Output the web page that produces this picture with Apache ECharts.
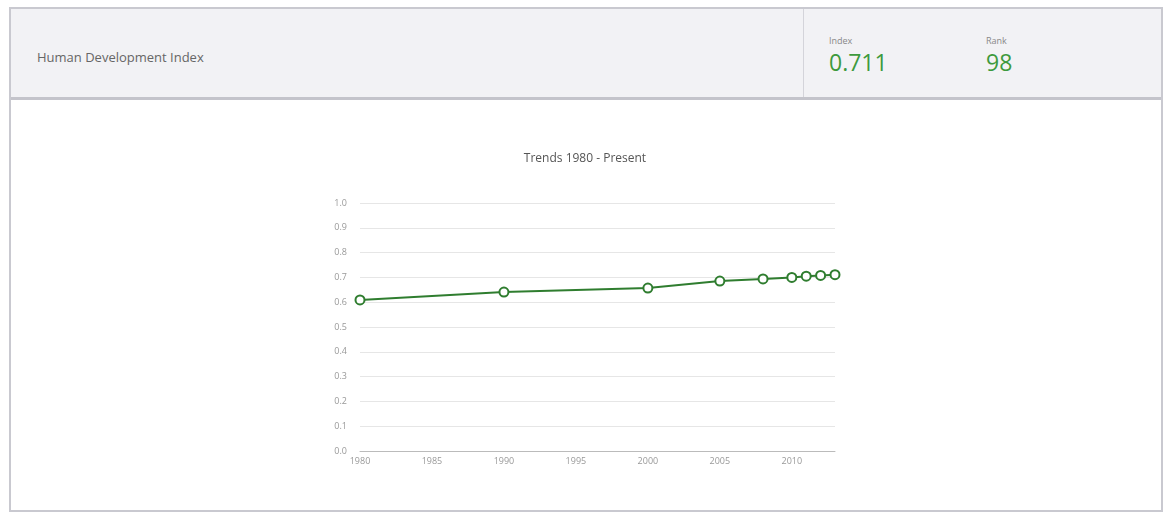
<!DOCTYPE html>
<html>
<head>
<meta charset="utf-8">
<script src="https://cdn.jsdelivr.net/npm/echarts@6/dist/echarts.min.js"></script>
<style>
  html, body { margin: 0; padding: 0; background: #fff; font-family: "Open Sans", sans-serif; }
  #wrap { position: relative; width: 1163px; height: 512px; overflow: hidden; }
  #box {
    position: absolute; left: 9px; top: 7px; width: 1150px; height: 501px;
    border: 2px solid #c9c9d0; border-bottom-width: 2px;
  }
  #head {
    position: absolute; left: 0; top: 0; right: 0; height: 88px;
    background: #f2f2f5; border-bottom: 3px solid #c4c4cb;
  }
  #head .name { position: absolute; left: 26px; top: 39px; font-size: 13px; color: #666; }
  #head .divider { position: absolute; left: 792px; top: 0; width: 1px; height: 88px; background: #d4d4da; }
  .stat { position: absolute; top: 25px; }
  .stat .lbl { font-size: 9px; color: #888; }
  .stat .val { font-size: 23px; color: #3d9a3d; line-height: 26px; margin-top: 2px; }
  #chart { position: absolute; left: 0; top: 0; width: 1163px; height: 512px; }
</style>
</head>
<body>
<div id="wrap">
  <div id="box">
    <div id="head">
      <div class="name">Human Development Index</div>
      <div class="divider"></div>
      <div class="stat" style="left:818px"><div class="lbl">Index</div><div class="val">0.711</div></div>
      <div class="stat" style="left:975px"><div class="lbl">Rank</div><div class="val">98</div></div>
    </div>
  </div>
  <div id="chart"></div>
</div>
<script>
// HDI trend values
const years = [1980, 1990, 2000, 2005, 2008, 2010, 2011, 2012, 2013];
const hdi = [0.609, 0.641, 0.657, 0.685, 0.694, 0.700, 0.705, 0.708, 0.711];

const chart = echarts.init(document.getElementById("chart"));

const colors = {
  line: "#2f7d2f",
  text: "#999",
  title: "#555",
  grid: "#e6e6e6",
  axis: "#bbb",
};

chart.setOption({
  animation: false,
  title: {
    text: "Trends 1980 - Present",
    left: 580,
    top: 148,
    textAlign: "center",
    textStyle: { color: colors.title, fontFamily: "Open Sans", fontWeight: "normal", fontSize: 12 },
  },
  grid: { left: 360, right: 328, top: 203, bottom: 61 },
  xAxis: {
    type: "value",
    min: 1980,
    max: 2013,
    interval: 5,
    splitLine: { show: false },
    axisTick: { show: false },
    axisLine: { lineStyle: { color: colors.axis } },
    axisLabel: {
      color: colors.text,
      fontSize: 9,
      fontFamily: "Open Sans",
      showMaxLabel: false,
      margin: 6,
      formatter: (v) => String(v),
    },
  },
  yAxis: {
    type: "value",
    min: 0,
    max: 1,
    interval: 0.1,
    axisLine: { show: false },
    axisTick: { show: false },
    splitLine: { lineStyle: { color: colors.grid } },
    axisLabel: {
      color: colors.text,
      fontSize: 9,
      fontFamily: "Open Sans",
      margin: 13,
      formatter: (v) => v.toFixed(1),
    },
  },
  series: [
    {
      type: "line",
      data: years.map((y, i) => [y, hdi[i]]),
      symbol: "circle",
      symbolSize: 9,
      itemStyle: { color: "#fff", borderColor: colors.line, borderWidth: 2 },
      lineStyle: { color: colors.line, width: 2 },
    },
  ],
});
</script>
</body>
</html>
